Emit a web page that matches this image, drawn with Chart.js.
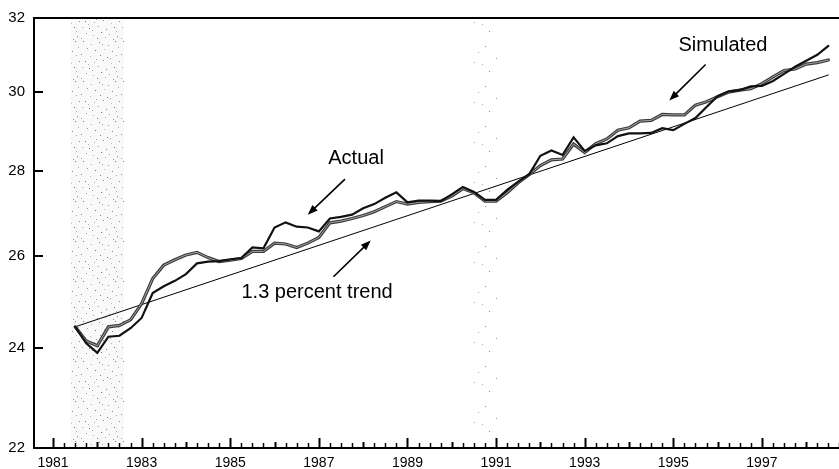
<!DOCTYPE html>
<html>
<head>
<meta charset="utf-8">
<script src="https://cdn.jsdelivr.net/npm/chart.js@4.4.1/dist/chart.umd.min.js"></script>
<style>
  html, body { margin: 0; padding: 0; background: #fff; }
  #wrap { position: relative; width: 839px; height: 469px; }
</style>
</head>
<body>
<div id="wrap"><canvas id="chart"></canvas></div>
<script>
// Quarterly series, 1981:Q3 through 1998:Q3
const firstQuarter = 1981.5;

const actual = [
  24.45, 24.10, 23.90, 24.24, 24.26, 24.42, 24.64, 25.18, 25.33, 25.45,
  25.60, 25.84, 25.88, 25.89, 25.93, 25.96, 26.20, 26.18, 26.66, 26.78,
  26.68, 26.66, 26.57, 26.87, 26.91, 26.96, 27.11, 27.21, 27.36, 27.49,
  27.25, 27.29, 27.29, 27.28, 27.44, 27.62, 27.50, 27.31, 27.31, 27.55,
  27.75, 27.93, 28.38, 28.51, 28.40, 28.84, 28.50, 28.64, 28.69, 28.87,
  28.94, 28.94, 28.95, 29.07, 29.02, 29.18, 29.33, 29.61, 29.89, 30.02,
  30.05, 30.15, 30.16, 30.29, 30.48, 30.67, 30.83, 30.99, 31.23
];

const simulated = [
  24.45, 24.15, 24.05, 24.45, 24.48, 24.60, 24.95, 25.50, 25.80, 25.92,
  26.03, 26.09, 25.97, 25.88, 25.91, 25.95, 26.11, 26.11, 26.30, 26.28,
  26.20, 26.30, 26.43, 26.77, 26.81, 26.87, 26.94, 27.03, 27.15, 27.27,
  27.21, 27.25, 27.27, 27.28, 27.40, 27.58, 27.48, 27.28, 27.28, 27.48,
  27.72, 27.92, 28.14, 28.28, 28.30, 28.67, 28.46, 28.68, 28.80, 29.02,
  29.08, 29.25, 29.27, 29.42, 29.41, 29.41, 29.66, 29.75, 29.88, 30.00,
  30.05, 30.09, 30.22, 30.40, 30.57, 30.61, 30.74, 30.78, 30.85
];

// 1.3 percent trend line (end points)
const trendYears = [1981.5, 1998.5];
const trendValues = [24.45, 30.45];

const yTicks = [22, 24, 26, 28, 30, 32];
const xLabelYears = [1981, 1983, 1985, 1987, 1989, 1991, 1993, 1995, 1997];

// Recession bands (start, end) in years
const recessions = [[1981.4, 1982.6], [1990.45, 1991.1]];

// Callout text and arrows, placed in data units (year, value)
const notes = [
  { text: 'Actual', x: 1987.84, y: 28.32 },
  { text: 'Simulated', x: 1996.12, y: 31.23 },
  { text: '1.3 percent trend', x: 1986.96, y: 25.20 }
];
const arrows = [
  { from: [1987.59, 27.81], to: [1986.75, 26.96] },
  { from: [1995.73, 30.73], to: [1994.91, 29.78] },
  { from: [1987.33, 25.54], to: [1988.17, 26.36] }
];

const FONT = "'Liberation Sans', Arial, Helvetica, sans-serif";

const quarterDates = actual.map((_, i) => firstQuarter + i * 0.25);
const toPoints = vals => vals.map((v, i) => ({ x: quarterDates[i], y: v }));

// Stipple tiles for the shaded bands
function makeStipple(ctx, size, dots) {
  const c = document.createElement('canvas');
  c.width = size; c.height = size;
  const g = c.getContext('2d');
  dots.forEach(([x, y, a]) => {
    g.fillStyle = `rgba(60,60,60,${a})`;
    g.fillRect(x, y, 1, 1);
  });
  return ctx.createPattern(c, 'repeat');
}
const denseDots = [
  [3,1,.7],[11,4,.4],[19,2,.6],[28,5,.5],[35,1,.7],[7,8,.5],[15,10,.7],[24,9,.35],
  [32,11,.6],[38,7,.4],[1,14,.6],[10,16,.35],[20,15,.6],[27,17,.7],[36,15,.45],
  [5,21,.7],[14,22,.45],[23,20,.6],[31,23,.35],[39,21,.6],[2,27,.4],[9,28,.7],
  [18,26,.5],[26,29,.6],[34,27,.7],[6,33,.6],[13,35,.35],[21,32,.7],[29,34,.45],
  [37,36,.6],[1,38,.45],[17,38,.6],[25,37,.4],[33,39,.55],[12,30,.5],[30,18,.5],
  [22,4,.45],[8,24,.4],[36,31,.4],[16,19,.45]
];
const sparseDots = [
  [5,6,.6],[27,3,.45],[16,18,.55],[34,22,.5],[9,31,.6],[24,36,.45],[38,12,.4],[2,24,.45]
];

const bandPlugin = {
  id: 'bands',
  beforeDatasetsDraw(chart) {
    const { ctx, chartArea: a, scales: { x } } = chart;
    if (!this.p1) {
      this.p1 = makeStipple(ctx, 40, denseDots);
      this.p2 = makeStipple(ctx, 40, sparseDots);
    }
    ctx.save();
    recessions.forEach(([s, e], i) => {
      const x0 = x.getPixelForValue(s), x1 = x.getPixelForValue(e);
      if (i === 0) {
        ctx.fillStyle = 'rgba(0,0,0,0.025)';
        ctx.fillRect(x0, a.top, x1 - x0, a.bottom - a.top);
      }
      ctx.fillStyle = i === 0 ? this.p1 : this.p2;
      ctx.fillRect(x0, a.top, x1 - x0, a.bottom - a.top);
    });
    ctx.restore();
  }
};

const framePlugin = {
  id: 'frame',
  afterDraw(chart) {
    const { ctx, chartArea: a, scales: { x, y } } = chart;
    ctx.save();
    ctx.strokeStyle = '#000';
    // top frame line
    ctx.lineWidth = 2;
    ctx.beginPath();
    ctx.moveTo(a.left, a.top); ctx.lineTo(a.right, a.top);
    ctx.stroke();
    // quarterly ticks along the bottom, pointing inward
    for (let q = 1981 * 4; q <= 1998.75 * 4; q++) {
      const yr = q / 4;
      const px = Math.round(x.getPixelForValue(yr)) + 0.5;
      let len = 5;
      if (Number.isInteger(yr)) len = xLabelYears.includes(yr) ? 10 : 6;
      ctx.lineWidth = Number.isInteger(yr) ? 2 : 1.5;
      ctx.beginPath();
      ctx.moveTo(px, a.bottom); ctx.lineTo(px, a.bottom - len);
      ctx.stroke();
    }
    // value ticks along the left side, pointing inward
    ctx.lineWidth = 2;
    yTicks.forEach(v => {
      const py = Math.round(y.getPixelForValue(v));
      ctx.beginPath();
      ctx.moveTo(a.left, py); ctx.lineTo(a.left + 9, py);
      ctx.stroke();
    });
    // arrows
    ctx.fillStyle = '#000';
    arrows.forEach(({ from, to }) => {
      const x0 = x.getPixelForValue(from[0]), y0 = y.getPixelForValue(from[1]);
      const x1 = x.getPixelForValue(to[0]), y1 = y.getPixelForValue(to[1]);
      const ang = Math.atan2(y1 - y0, x1 - x0);
      const head = 10, half = 3.8;
      ctx.lineWidth = 1.6;
      ctx.beginPath();
      ctx.moveTo(x0, y0);
      ctx.lineTo(x1 - Math.cos(ang) * head * 0.8, y1 - Math.sin(ang) * head * 0.8);
      ctx.stroke();
      ctx.beginPath();
      ctx.moveTo(x1, y1);
      ctx.lineTo(x1 - Math.cos(ang) * head - Math.sin(ang) * half,
                 y1 - Math.sin(ang) * head + Math.cos(ang) * half);
      ctx.lineTo(x1 - Math.cos(ang) * head + Math.sin(ang) * half,
                 y1 - Math.sin(ang) * head - Math.cos(ang) * half);
      ctx.closePath();
      ctx.fill();
    });
    // callout labels
    ctx.font = `20px ${FONT}`;
    ctx.textAlign = 'center';
    ctx.textBaseline = 'middle';
    notes.forEach(n => {
      ctx.fillText(n.text, x.getPixelForValue(n.x), y.getPixelForValue(n.y));
    });
    ctx.restore();
  }
};

new Chart(document.getElementById('chart'), {
  type: 'line',
  data: {
    datasets: [
      {
        label: 'Actual',
        data: toPoints(actual),
        borderColor: '#111',
        borderWidth: 2.2
      },
      {
        label: 'Simulated (core)',
        data: toPoints(simulated),
        borderColor: 'rgba(175,175,175,0.9)',
        borderWidth: 1
      },
      {
        label: 'Simulated',
        data: toPoints(simulated),
        borderColor: '#3a3a3a',
        borderWidth: 3.2
      },
      {
        label: '1.3 percent trend',
        data: trendYears.map((yr, i) => ({ x: yr, y: trendValues[i] })),
        borderColor: '#000',
        borderWidth: 1
      }
    ]
  },
  options: {
    responsive: true,
    maintainAspectRatio: false,
    animation: false,
    events: [],
    elements: {
      point: { radius: 0 },
      line: { tension: 0, borderCapStyle: 'round', borderJoinStyle: 'miter' }
    },
    layout: { padding: { top: 15, right: 0, left: 0, bottom: 0 } },
    plugins: { legend: { display: false }, tooltip: { enabled: false } },
    scales: {
      x: {
        type: 'linear',
        min: 1980.571,
        max: 1998.74,
        grid: { display: false, drawTicks: false },
        border: { display: true, color: '#000', width: 2 },
        afterBuildTicks: s => { s.ticks = xLabelYears.map(v => ({ value: v })); },
        afterFit: s => { s.height = 21; },
        ticks: {
          autoSkip: false,
          maxRotation: 0,
          padding: 7,
          color: '#000',
          font: { family: FONT, size: 14 },
          callback: v => String(v)
        }
      },
      y: {
        type: 'logarithmic',
        min: 22,
        max: 32,
        grid: { display: false, drawTicks: false },
        border: { display: true, color: '#000', width: 2 },
        afterBuildTicks: s => { s.ticks = yTicks.map(v => ({ value: v })); },
        afterFit: s => { s.width = 34; },
        ticks: {
          autoSkip: false,
          padding: 9,
          color: '#000',
          font: { family: FONT, size: 15 },
          callback: v => String(v)
        }
      }
    }
  },
  plugins: [bandPlugin, framePlugin]
});
</script>
</body>
</html>
